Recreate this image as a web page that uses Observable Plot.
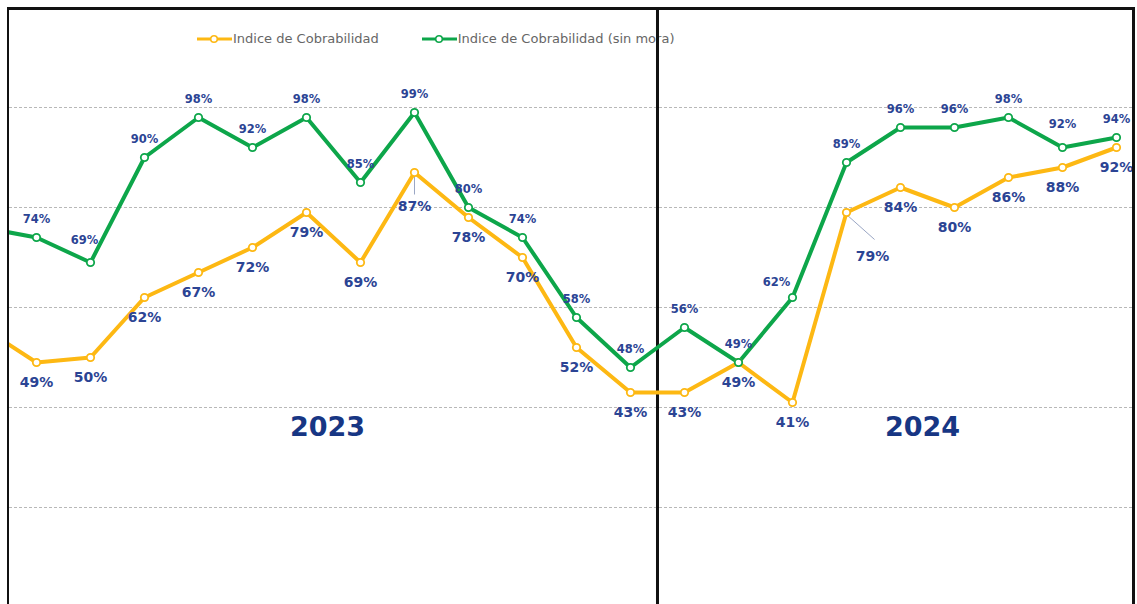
<!DOCTYPE html>
<html>
<head>
<meta charset="utf-8">
<script src="https://cdn.jsdelivr.net/npm/d3@7"></script>
<script src="https://cdn.jsdelivr.net/npm/@observablehq/plot@0.6"></script>
<style>
  html, body { margin: 0; padding: 0; background: #fff; }
  #wrap { position: relative; width: 1137px; height: 604px; overflow: hidden; background: #fff; }
  #chart { position: absolute; left: 0; top: 0; }
  #border { position: absolute; left: 7px; top: 7px; width: 1123px; height: 700px;
            border-top: 3px solid #111; border-left: 2px solid #111; border-right: 3px solid #111; pointer-events: none; }
  #legend { position: absolute; left: 197px; top: 31px; font-family: "DejaVu Sans", sans-serif; font-size: 13px; color: #666; display: flex; align-items: center; }
  #legend .item { display: flex; align-items: center; margin-right: 43px; }
  #legend svg { margin-right: 1px; }
</style>
</head>
<body>
<div id="wrap">
  <div id="legend"></div>
  <div id="chart"></div>
  <div id="border"></div>
</div>
<script>
// Month index: 0 = Dic 2022 (cut off at the left edge), 1..12 = 2023, 13..21 = Ene–Sep 2024
const months = ["Dic-22","Ene-23","Feb-23","Mar-23","Abr-23","May-23","Jun-23","Jul-23","Ago-23","Sep-23","Oct-23","Nov-23","Dic-23",
                "Ene-24","Feb-24","Mar-24","Abr-24","May-24","Jun-24","Jul-24","Ago-24","Sep-24"];
const cobrabilidad = [56,49,50,62,67,72,79,69,87,78,70,52,43,43,49,41,79,84,80,86,88,92];
const sinMora      = [76,74,69,90,98,92,98,85,99,80,74,58,48,56,49,62,89,96,96,98,92,94];
const seriesNames = ["Indice de Cobrabilidad", "Indice de Cobrabilidad (sin mora)"];
const seriesColors = ["#FDB813", "#0DA64A"];
const gridValues = [20, 40, 60, 80, 100];
const years = ["2023", "2024"];
const yearBreak = [12.5];

const rows = months.map((m, i) => ({i, month: m, a: cobrabilidad[i], b: sinMora[i]}));
const yellow = rows.map(d => ({i: d.i, v: d.a}));
const green = rows.map(d => ({i: d.i, v: d.b}));
const visible = d => d.i >= 1;
const labelColor = "#2B4494";
const font = "DejaVu Sans, sans-serif";

// year label anchors: mean month index of each year
const yearRows = years.map(y => {
  const idx = rows.filter(d => d.month.endsWith(y.slice(2))).map(d => d.i);
  return {year: y, i: d3.mean(idx)};
});

// leader lines for the two displaced yellow labels
const leaders = [
  {...yellow[8], x2: yellow[8].i, dv: 4.4, dv0: 0.6},
  {...yellow[16], x2: yellow[16].i + 0.52, dv: 5.4, dv0: 0.4}
];

const plot = Plot.plot({
  width: 1137,
  height: 604,
  marginLeft: 9,
  marginRight: 4,
  marginTop: 9,
  marginBottom: 0,
  x: {type: "linear", domain: [0.5, 21.315], axis: null},
  y: {domain: [0.6, 119.6], axis: null},
  style: {background: "transparent", fontFamily: font},
  marks: [
    Plot.ruleY(gridValues, {stroke: "#b8b8b8", strokeWidth: 1, strokeDasharray: "3,2"}),
    Plot.ruleX(yearBreak, {stroke: "#111", strokeWidth: 3}),
    Plot.link(leaders, {x1: "i", y1: d => d.v - d.dv0, x2: "x2", y2: d => d.v - d.dv, stroke: "#9aa6c4", strokeWidth: 1}),
    Plot.line(yellow, {x: "i", y: "v", stroke: seriesColors[0], strokeWidth: 4, clip: true}),
    Plot.line(green, {x: "i", y: "v", stroke: seriesColors[1], strokeWidth: 4, clip: true}),
    Plot.dot(yellow, {x: "i", y: "v", r: 3.7, fill: "white", stroke: seriesColors[0], strokeWidth: 1.8, clip: true}),
    Plot.dot(green, {x: "i", y: "v", r: 3.7, fill: "white", stroke: seriesColors[1], strokeWidth: 1.8, clip: true}),
    // yellow labels (below)
    Plot.text(yellow.filter(d => visible(d) && d.i !== 8 && d.i !== 16), {x: "i", y: "v", text: d => d.v + "%", dy: 20, fill: labelColor, fontSize: 14, fontWeight: "bold"}),
    Plot.text(yellow.filter(d => d.i === 8), {x: "i", y: "v", text: d => d.v + "%", dy: 34, fill: labelColor, fontSize: 14, fontWeight: "bold"}),
    Plot.text(yellow.filter(d => d.i === 16), {x: "i", y: "v", text: d => d.v + "%", dx: 26, dy: 44, fill: labelColor, fontSize: 14, fontWeight: "bold"}),
    // green labels (above)
    Plot.text(green.filter(d => visible(d) && d.i !== 2 && d.i !== 15 && d.i !== 20), {x: "i", y: "v", text: d => d.v + "%", dy: -18, fill: labelColor, fontSize: 11.5, fontWeight: "bold"}),
    Plot.text(green.filter(d => d.i === 2), {x: "i", y: "v", text: d => d.v + "%", dx: -6, dy: -22, fill: labelColor, fontSize: 11.5, fontWeight: "bold"}),
    Plot.text(green.filter(d => d.i === 15), {x: "i", y: "v", text: d => d.v + "%", dx: -16, dy: -15, fill: labelColor, fontSize: 11.5, fontWeight: "bold"}),
    Plot.text(green.filter(d => d.i === 20), {x: "i", y: "v", text: d => d.v + "%", dy: -23, fill: labelColor, fontSize: 11.5, fontWeight: "bold"}),
    // year labels
    Plot.text(yearRows.filter(d => d.year === "2023"), {x: "i", y: 36, text: "year", dx: -6, fill: "#173684", fontSize: 27, fontWeight: "bold"}),
    Plot.text(yearRows.filter(d => d.year === "2024"), {x: "i", y: 36, text: "year", dx: 22, fill: "#173684", fontSize: 27, fontWeight: "bold"})
  ]
});
document.getElementById("chart").appendChild(plot);

// legend
const legend = document.getElementById("legend");
seriesNames.forEach((name, k) => {
  const item = document.createElement("div");
  item.className = "item";
  item.innerHTML = `<svg width="35" height="12"><line x1="0" y1="6" x2="35" y2="6" stroke="${seriesColors[k]}" stroke-width="3"/><circle cx="17" cy="6" r="3.3" fill="white" stroke="${seriesColors[k]}" stroke-width="1.6"/></svg><span>${name}</span>`;
  legend.appendChild(item);
});
</script>
</body>
</html>
